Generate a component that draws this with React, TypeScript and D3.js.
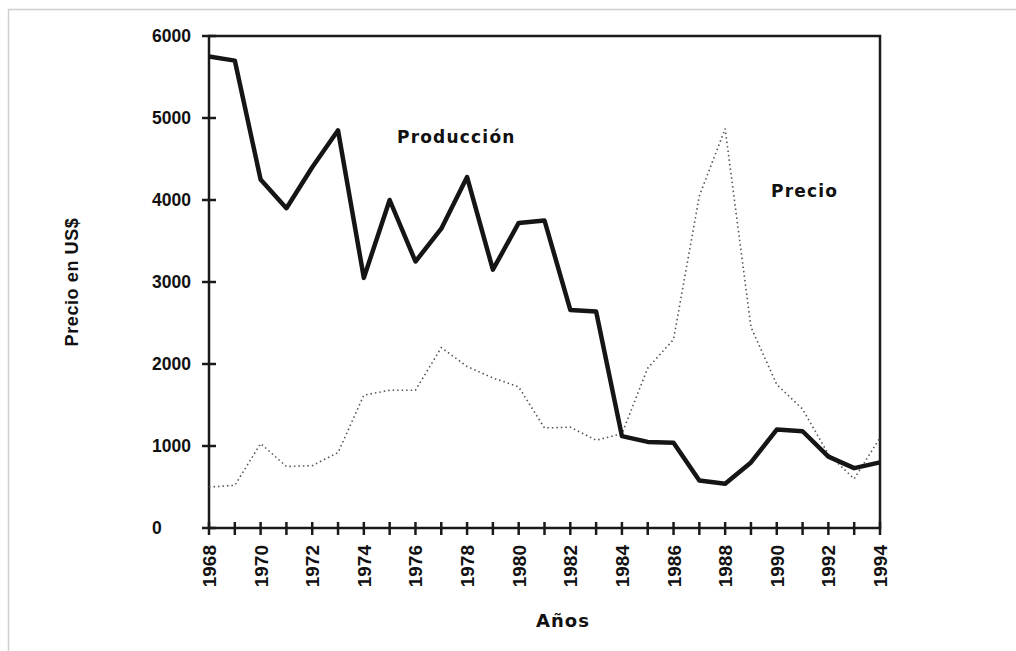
import React, { useEffect, useRef } from 'react';
import * as d3 from 'd3';

// years on the x axis
const years = d3.range(1968, 1995);

// Producción (thick line)
const produccion = [
  5750, 5700, 4250, 3900, 4400, 4850, 3050, 4000, 3250, 3650, 4280, 3150, 3720, 3750,
  2660, 2640, 1120, 1050, 1040, 580, 540, 800, 1200, 1180, 870, 730, 800,
];

// Precio (dotted line)
const precio = [
  500, 520, 1030, 750, 760, 920, 1620, 1680, 1680, 2200, 1970, 1830, 1720, 1220,
  1230, 1070, 1150, 1950, 2300, 4050, 4870, 2450, 1750, 1450, 900, 600, 1100,
];

const yTicks = [0, 1000, 2000, 3000, 4000, 5000, 6000];
const yearLabels = years.filter((y) => y % 2 === 0);

const App = () => {
  const svgRef = useRef<SVGSVGElement>(null);

  useEffect(() => {
    const svg = d3.select(svgRef.current);
    svg.selectAll('*').remove();

    const width = 1016;
    const height = 651;
    const font = '"Liberation Sans", Arial, sans-serif';
    const wideFont = '"DejaVu Sans", Verdana, sans-serif';

    const x = d3.scaleLinear().domain([1968, 1994]).range([209, 880]);
    const y = d3.scaleLinear().domain([0, 6000]).range([528, 36]);

    svg.attr('width', width).attr('height', height).style('background', '#fff');

    // outer light frame
    svg
      .append('rect')
      .attr('x', 8.5)
      .attr('y', 9.5)
      .attr('width', width + 20)
      .attr('height', height + 20)
      .attr('fill', 'none')
      .attr('stroke', '#cfcfcf')
      .attr('stroke-width', 1.5);

    // plot box
    svg
      .append('rect')
      .attr('x', x(1968))
      .attr('y', y(6000))
      .attr('width', x(1994) - x(1968))
      .attr('height', y(0) - y(6000))
      .attr('fill', 'none')
      .attr('stroke', '#1a1a1a')
      .attr('stroke-width', 2.5);

    // y ticks crossing the axis
    svg
      .append('g')
      .selectAll('line')
      .data(yTicks)
      .join('line')
      .attr('x1', x(1968) - 7)
      .attr('x2', x(1968) + 7)
      .attr('y1', (d) => y(d))
      .attr('y2', (d) => y(d))
      .attr('stroke', '#1a1a1a')
      .attr('stroke-width', 2.5);

    svg
      .append('g')
      .selectAll('text')
      .data(yTicks)
      .join('text')
      .attr('x', 152)
      .attr('y', (d) => y(d))
      .attr('dy', '0.35em')
      .style('font', `bold 17.5px ${font}`)
      .attr('fill', '#111')
      .text((d) => d);

    // x ticks
    svg
      .append('g')
      .selectAll('line')
      .data(years)
      .join('line')
      .attr('x1', (d) => x(d))
      .attr('x2', (d) => x(d))
      .attr('y1', y(0) - 6)
      .attr('y2', y(0) + 7)
      .attr('stroke', '#1a1a1a')
      .attr('stroke-width', 2.5);

    svg
      .append('g')
      .selectAll('text')
      .data(yearLabels)
      .join('text')
      .attr('transform', (d) => `translate(${x(d) + 7},545) rotate(-90)`)
      .attr('text-anchor', 'end')
      .style('font', `bold 19px ${font}`)
      .attr('fill', '#111')
      .text((d) => d);

    // lines
    const line = d3
      .line<number>()
      .x((_, i) => x(years[i]))
      .y((d) => y(d));

    svg
      .append('path')
      .datum(precio)
      .attr('d', line)
      .attr('fill', 'none')
      .attr('stroke', '#555')
      .attr('stroke-width', 1.6)
      .attr('stroke-dasharray', '1.5,3');

    svg
      .append('path')
      .datum(produccion)
      .attr('d', line)
      .attr('fill', 'none')
      .attr('stroke', '#151515')
      .attr('stroke-width', 4.5)
      .attr('stroke-linejoin', 'round');

    // labels in the plot
    svg
      .append('text')
      .attr('x', 397)
      .attr('y', 143)
      .style('font', `bold 17px ${wideFont}`)
      .style('letter-spacing', '1.2px')
      .attr('fill', '#111')
      .text('Producción');

    svg
      .append('text')
      .attr('x', 771)
      .attr('y', 197)
      .style('font', `bold 17px ${wideFont}`)
      .style('letter-spacing', '1.2px')
      .attr('fill', '#111')
      .text('Precio');

    // axis titles
    svg
      .append('text')
      .attr('transform', 'translate(78,282) rotate(-90)')
      .attr('text-anchor', 'middle')
      .style('font', `bold 18px ${font}`)
      .style('letter-spacing', '0.6px')
      .attr('fill', '#111')
      .text('Precio en US$');

    svg
      .append('text')
      .attr('x', 563)
      .attr('y', 627)
      .attr('text-anchor', 'middle')
      .style('font', `bold 18px ${wideFont}`)
      .style('letter-spacing', '1px')
      .attr('fill', '#111')
      .text('Años');
  }, []);

  return <svg ref={svgRef} style={{ position: 'absolute', left: 0, top: 0, display: 'block' }} />;
};

export default App;
